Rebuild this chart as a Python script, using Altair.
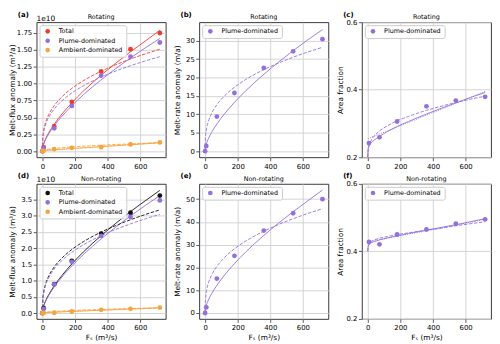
import altair as alt
import pandas as pd

# ---------------- data ----------------
X_PTS = [0, 7.2, 72, 180, 360, 540, 720]
X_PTS_AF = [7.2, 72, 180, 360, 540, 720]
X_FIT = [0, 2, 7.2, 20, 40, 72, 120, 180, 250, 360, 450, 540, 630, 720]
X_TICKS = [0, 200, 400, 600]

# (a) Rotating melt flux anomaly (units of 1e10 m3/a)
ROT_TOTAL = [0, 0.06, 0.37, 0.73, 1.18, 1.51, 1.75]
ROT_PLUME = [0, 0.05, 0.34, 0.67, 1.12, 1.40, 1.61]
ROT_AMB = [0, 0.005, 0.03, 0.05, 0.06, 0.10, 0.13]
ROT_TOTAL_FIT = [0.03, 0.063, 0.108, 0.186, 0.279, 0.399, 0.552, 0.716, 0.888, 1.126, 1.304, 1.472, 1.63, 1.79]
ROT_TOTAL_FIT2 = [0, 0.193, 0.301, 0.430, 0.549, 0.674, 0.806, 0.930, 1.043, 1.184, 1.281, 1.365, 1.441, 1.51]
ROT_PLUME_FIT = [0.03, 0.061, 0.103, 0.176, 0.263, 0.376, 0.519, 0.673, 0.834, 1.057, 1.224, 1.381, 1.529, 1.67]
ROT_PLUME_FIT2 = [0, 0.179, 0.279, 0.399, 0.509, 0.625, 0.748, 0.862, 0.967, 1.098, 1.188, 1.266, 1.336, 1.40]
ROT_AMB_FIT = [0.005, 0.006, 0.009, 0.013, 0.017, 0.023, 0.030, 0.040, 0.050, 0.067, 0.081, 0.095, 0.109, 0.125]
ROT_AMB_FIT2 = [0, 0.0066, 0.0125, 0.021, 0.029, 0.040, 0.051, 0.0625, 0.074, 0.088, 0.099, 0.108, 0.117, 0.125]
ROT_AMB_FIT3 = [0.005, 0.005, 0.006, 0.009, 0.012, 0.018, 0.026, 0.037, 0.049, 0.068, 0.084, 0.100, 0.115, 0.131]

# (b) Rotating melt-rate anomaly (m/a)
ROT_RATE = [0, 1.4, 9.4, 15.8, 22.6, 27.1, 30.4]
ROT_RATE_FIT = [0.5, 1.11, 1.95, 3.39, 5.12, 7.36, 10.19, 13.24, 16.43, 20.85, 24.16, 27.28, 30.21, 33.0]
ROT_RATE_FIT2 = [0, 3.60, 5.63, 8.04, 10.25, 12.59, 15.06, 17.36, 19.48, 22.12, 23.92, 25.50, 26.91, 28.2]

# (c) Rotating area fraction
ROT_AF = [0.242, 0.259, 0.306, 0.351, 0.368, 0.379]
ROT_AF_FIT = [0.20, 0.222, 0.234, 0.243, 0.251, 0.262, 0.276, 0.291, 0.306, 0.328, 0.345, 0.361, 0.377, 0.392]
ROT_AF_FIT2 = [0.20, 0.218, 0.232, 0.249, 0.263, 0.278, 0.293, 0.308, 0.321, 0.339, 0.351, 0.362, 0.372, 0.381]
ROT_AF_FIT3 = [0.255, 0.255, 0.256, 0.259, 0.263, 0.269, 0.278, 0.290, 0.303, 0.325, 0.342, 0.360, 0.377, 0.395]

# (d) Non-rotating melt flux anomaly (units of 1e10 m3/a)
NR_TOTAL = [0, 0.15, 0.89, 1.61, 2.45, 3.09, 3.62]
NR_PLUME = [0, 0.13, 0.88, 1.58, 2.38, 2.96, 3.47]
NR_AMB = [0, 0.003, 0.01, 0.05, 0.10, 0.13, 0.17]
NR_TOTAL_FIT = [0.05, 0.12, 0.217, 0.382, 0.580, 0.837, 1.162, 1.512, 1.878, 2.385, 2.765, 3.124, 3.459, 3.78]
NR_TOTAL_FIT2 = [0, 0.405, 0.634, 0.906, 1.156, 1.420, 1.698, 1.958, 2.196, 2.494, 2.698, 2.875, 3.035, 3.18]
NR_PLUME_FIT = [0.05, 0.117, 0.21, 0.368, 0.557, 0.803, 1.114, 1.449, 1.799, 2.285, 2.649, 2.992, 3.313, 3.62]
NR_PLUME_FIT2 = [0, 0.388, 0.606, 0.866, 1.105, 1.358, 1.623, 1.872, 2.100, 2.384, 2.579, 2.748, 2.901, 3.04]
NR_AMB_FIT = [0.01, 0.011, 0.013, 0.017, 0.022, 0.029, 0.039, 0.052, 0.066, 0.088, 0.106, 0.124, 0.142, 0.16]
NR_AMB_FIT2 = [0, 0.0084, 0.016, 0.0267, 0.0377, 0.0506, 0.0653, 0.08, 0.0943, 0.113, 0.1265, 0.1386, 0.1496, 0.16]
NR_AMB_FIT3 = [0.01, 0.0105, 0.0116, 0.0145, 0.019, 0.026, 0.037, 0.050, 0.066, 0.091, 0.111, 0.132, 0.152, 0.172]

# (e) Non-rotating melt-rate anomaly (m/a)
NR_RATE = [0, 2.5, 15.1, 25.1, 36.2, 43.8, 50.0]
NR_RATE_FIT = [1.0, 1.99, 3.36, 5.70, 8.50, 12.14, 16.73, 21.70, 26.87, 34.05, 39.44, 44.51, 49.26, 54.0]
NR_RATE_FIT2 = [0, 5.84, 9.14, 13.05, 16.65, 20.45, 24.46, 28.20, 31.63, 35.92, 38.85, 41.41, 43.71, 45.8]

# (f) Non-rotating area fraction
NR_AF = [0.428, 0.421, 0.450, 0.465, 0.482, 0.495]
NR_AF_FIT = [0.40, 0.412, 0.420, 0.425, 0.429, 0.434, 0.440, 0.446, 0.453, 0.463, 0.471, 0.479, 0.488, 0.497]
NR_AF_FIT2 = [0.40, 0.413, 0.422, 0.429, 0.434, 0.439, 0.444, 0.450, 0.455, 0.463, 0.469, 0.476, 0.482, 0.488]
NR_AF_FIT3 = [0.428, 0.428, 0.429, 0.430, 0.432, 0.435, 0.439, 0.445, 0.451, 0.461, 0.469, 0.478, 0.486, 0.495]

C_RED = "#f03a2e"
C_PURPLE = "#9370db"
C_ORANGE = "#f7a43e"
C_BLACK = "#111111"

DASH = {"solid": None, "dashed": [3.5, 1.6], "dotted": [1, 1.4]}
XDOM = [-36, 756]
W = 131
H = 137
FONT = "DejaVu Sans"


def text_layer(txt, x, y, size, weight="normal", align="left"):
    return alt.Chart(pd.DataFrame({"t": [txt]})).mark_text(
        fontSize=size, fontWeight=weight, align=align, baseline="alphabetic",
        font=FONT, color="#000000").encode(
        x=alt.value(x), y=alt.value(y), text="t:N")


def panel(letter, title, ytitle, ydom, yticks, yfmt, pts, fits, ext, tpad,
          xtitle=None, offset_text=None):
    prow = []
    for name, xs, ys, col in pts:
        for x, y in zip(xs, ys):
            prow.append({"x": x, "y": y, "series": name})
    pdf = pd.DataFrame(prow)
    dom = [p[0] for p in pts]
    rng = [p[3] for p in pts]

    xaxis = dict(values=X_TICKS, format="d", titlePadding=3)
    xaxis["title"] = xtitle if xtitle else None
    xenc = alt.X("x:Q", scale=alt.Scale(domain=XDOM, nice=False, zero=False),
                 axis=alt.Axis(**xaxis))
    yenc = alt.Y("y:Q", scale=alt.Scale(domain=ydom, nice=False, zero=False),
                 axis=alt.Axis(values=yticks, format=yfmt, title=ytitle,
                               minExtent=ext, maxExtent=ext, titlePadding=tpad))
    layers = []
    for style in ["solid", "dashed", "dotted"]:
        frows = []
        for name, xs, ys, col, st in fits:
            if st != style:
                continue
            for x, y in zip(xs, ys):
                frows.append({"x": x, "y": y, "series": name, "col": col})
        if not frows:
            continue
        mk = dict(strokeWidth=1, interpolate="monotone", clip=True, opacity=0.9)
        if DASH[style]:
            mk["strokeDash"] = DASH[style]
        layers.append(
            alt.Chart(pd.DataFrame(frows)).mark_line(**mk).encode(
                x=xenc, y=yenc,
                stroke=alt.Stroke("col:N", scale=None),
                detail="series:N"))
    points = alt.Chart(pdf).mark_circle(size=24, opacity=1).encode(
        x=xenc, y=yenc,
        color=alt.Color("series:N", sort=dom,
                        scale=alt.Scale(domain=dom, range=rng),
                        legend=alt.Legend(title=None, orient="top-left", offset=3,
                                          padding=3, strokeColor="#cccccc",
                                          fillColor="rgba(255,255,255,0.85)",
                                          cornerRadius=2, labelFontSize=6.5,
                                          symbolSize=22, symbolType="circle",
                                          rowPadding=2.5, symbolOffset=2,
                                          labelOffset=8, symbolStrokeWidth=0)))
    layers.append(points)
    layers.append(text_layer(letter, -19, -5.5, 7, weight="bold"))
    layers.append(text_layer(title, W / 2, -3, 6.5, align="center"))
    if offset_text:
        layers.append(text_layer(offset_text, 0, -1.5, 7.5))
    return alt.layer(*layers).properties(width=W, height=H)


FX = "Fₛ (m³/s)"

a = panel("(a)", "Rotating", "Melt-flux anomaly (m³/a)", [-0.09, 1.91],
          [0, 0.25, 0.5, 0.75, 1.0, 1.25, 1.5, 1.75], ".2f",
          [("Total", X_PTS, ROT_TOTAL, C_RED),
           ("Plume-dominated", X_PTS, ROT_PLUME, C_PURPLE),
           ("Ambient-dominated", X_PTS, ROT_AMB, C_ORANGE)],
          [("Total", X_FIT, ROT_TOTAL_FIT, C_RED, "solid"),
           ("Total", X_FIT, ROT_TOTAL_FIT2, C_RED, "dashed"),
           ("Plume-dominated", X_FIT, ROT_PLUME_FIT, C_PURPLE, "solid"),
           ("Plume-dominated", X_FIT, ROT_PLUME_FIT2, C_PURPLE, "dashed"),
           ("Ambient-dominated", X_FIT, ROT_AMB_FIT, C_ORANGE, "solid"),
           ("Ambient-dominated", X_FIT, ROT_AMB_FIT2, C_ORANGE, "dashed"),
           ("Ambient-dominated", X_FIT, ROT_AMB_FIT3, C_ORANGE, "dotted")],
          19, 1, offset_text="1e10")

b = panel("(b)", "Rotating", "Melt-rate anomaly (m/a)", [-1.65, 35.0],
          [0, 5, 10, 15, 20, 25, 30], "d",
          [("Plume-dominated", X_PTS, ROT_RATE, C_PURPLE)],
          [("Plume-dominated", X_FIT, ROT_RATE_FIT, C_PURPLE, "solid"),
           ("Plume-dominated", X_FIT, ROT_RATE_FIT2, C_PURPLE, "dashed")],
          16, 2)

c = panel("(c)", "Rotating", "Area fraction", [0.2, 0.6], [0.2, 0.4, 0.6], ".1f",
          [("Plume-dominated", X_PTS_AF, ROT_AF, C_PURPLE)],
          [("Plume-dominated", X_FIT, ROT_AF_FIT, C_PURPLE, "solid"),
           ("Plume-dominated", X_FIT, ROT_AF_FIT2, C_PURPLE, "dashed"),
           ("Plume-dominated", X_FIT, ROT_AF_FIT3, C_PURPLE, "dotted")],
          16, 2)

d = panel("(d)", "Non-rotating", "Melt-flux anomaly (m³/a)", [-0.18, 3.98],
          [0, 0.5, 1.0, 1.5, 2.0, 2.5, 3.0, 3.5], ".1f",
          [("Total", X_PTS, NR_TOTAL, C_BLACK),
           ("Plume-dominated", X_PTS, NR_PLUME, C_PURPLE),
           ("Ambient-dominated", X_PTS, NR_AMB, C_ORANGE)],
          [("Total", X_FIT, NR_TOTAL_FIT, C_BLACK, "solid"),
           ("Total", X_FIT, NR_TOTAL_FIT2, C_BLACK, "dashed"),
           ("Plume-dominated", X_FIT, NR_PLUME_FIT, C_PURPLE, "solid"),
           ("Plume-dominated", X_FIT, NR_PLUME_FIT2, C_PURPLE, "dashed"),
           ("Ambient-dominated", X_FIT, NR_AMB_FIT, C_ORANGE, "solid"),
           ("Ambient-dominated", X_FIT, NR_AMB_FIT2, C_ORANGE, "dashed"),
           ("Ambient-dominated", X_FIT, NR_AMB_FIT3, C_ORANGE, "dotted")],
          19, 1, xtitle=FX, offset_text="1e10")

e = panel("(e)", "Non-rotating", "Melt-rate anomaly (m/a)", [-2.6, 56.7],
          [0, 10, 20, 30, 40, 50], "d",
          [("Plume-dominated", X_PTS, NR_RATE, C_PURPLE)],
          [("Plume-dominated", X_FIT, NR_RATE_FIT, C_PURPLE, "solid"),
           ("Plume-dominated", X_FIT, NR_RATE_FIT2, C_PURPLE, "dashed")],
          16, 2, xtitle=FX)

f = panel("(f)", "Non-rotating", "Area fraction", [0.2, 0.6], [0.2, 0.4, 0.6], ".1f",
          [("Plume-dominated", X_PTS_AF, NR_AF, C_PURPLE)],
          [("Plume-dominated", X_FIT, NR_AF_FIT, C_PURPLE, "solid"),
           ("Plume-dominated", X_FIT, NR_AF_FIT2, C_PURPLE, "dashed"),
           ("Plume-dominated", X_FIT, NR_AF_FIT3, C_PURPLE, "dotted")],
          16, 2, xtitle=FX)

row1 = alt.hconcat(a, b, c, spacing=6).resolve_scale(color="independent")
row2 = alt.hconcat(d, e, f, spacing=6).resolve_scale(color="independent")

chart = alt.vconcat(row1, row2, spacing=2).resolve_scale(
    color="independent").properties(padding=0).configure(
    font=FONT).configure_axis(
    labelFontSize=7, titleFontSize=7.5, titleFontWeight="normal",
    labelColor="#000000", titleColor="#000000",
    gridColor="#d0d0d0", gridWidth=0.9, tickColor="#333333", tickSize=3.5,
    tickWidth=0.8, labelPadding=1.5, domain=False, labelFont=FONT, titleFont=FONT
).configure_view(stroke="#222222", strokeWidth=0.9)

chart.save("out.html", embed_options={"renderer": "svg", "actions": False})
